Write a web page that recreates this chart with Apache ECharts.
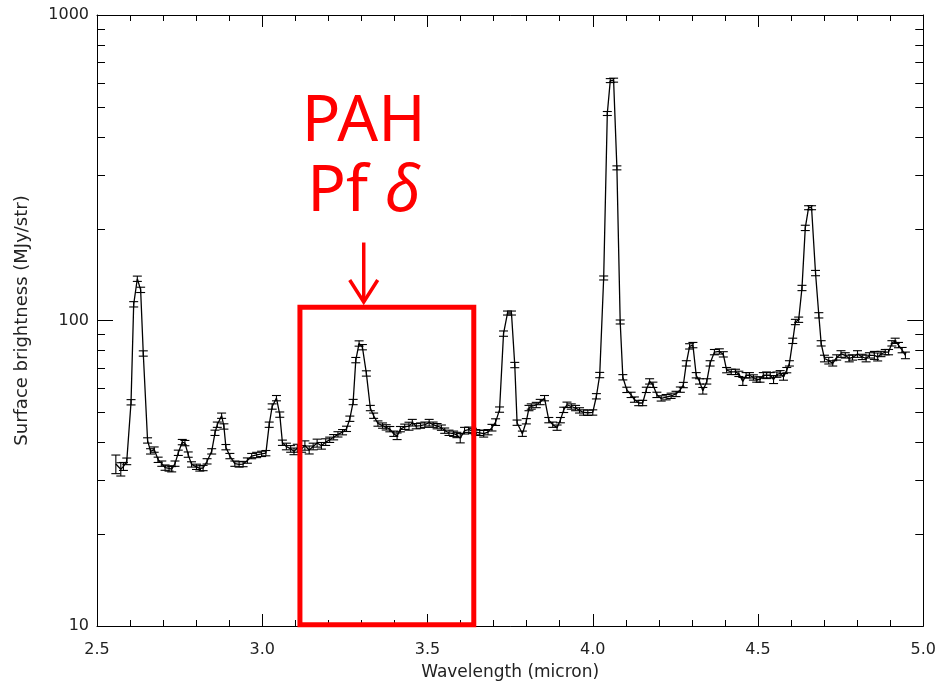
<!DOCTYPE html>
<html>
<head>
<meta charset="utf-8">
<script src="https://cdn.jsdelivr.net/npm/echarts@6/dist/echarts.min.js"></script>
<style>
html,body{margin:0;padding:0;background:#fff;}
#chart{width:939px;height:686px;}
</style>
</head>
<body>
<div id="chart"></div>
<script>
// ---- data ----
const wavelength = [
2.557,2.572,2.580,2.590,2.603,2.611,2.622,2.632,2.640,2.653,2.662,2.673,2.685,2.696,2.706,2.718,2.726,2.736,2.746,2.758,
2.766,2.776,2.786,2.801,2.811,2.821,2.833,2.847,2.857,2.864,2.877,2.884,2.890,2.902,2.917,2.930,2.942,2.955,2.968,2.983,
2.998,3.011,3.021,3.030,3.043,3.053,3.061,3.073,3.086,3.096,3.106,3.119,3.129,3.142,3.154,3.166,3.179,3.192,3.204,3.216,
3.229,3.243,3.255,3.265,3.275,3.283,3.293,3.303,3.315,3.327,3.337,3.350,3.364,3.375,3.386,3.398,3.408,3.418,3.431,3.444,
3.454,3.466,3.479,3.492,3.505,3.517,3.529,3.542,3.552,3.565,3.579,3.589,3.599,3.612,3.625,3.636,3.646,3.658,3.670,3.683,
3.695,3.706,3.718,3.730,3.742,3.754,3.764,3.771,3.787,3.799,3.807,3.814,3.829,3.841,3.854,3.867,3.879,3.892,3.902,3.912,
3.922,3.935,3.948,3.960,3.972,3.985,4.000,4.011,4.021,4.033,4.044,4.053,4.063,4.073,4.083,4.091,4.103,4.116,4.126,4.139,
4.151,4.162,4.172,4.182,4.194,4.207,4.222,4.237,4.252,4.265,4.274,4.283,4.293,4.303,4.313,4.323,4.333,4.345,4.355,4.368,
4.383,4.395,4.405,4.419,4.432,4.442,4.454,4.464,4.474,4.486,4.496,4.506,4.516,4.526,4.537,4.547,4.557,4.567,4.577,4.587,
4.595,4.605,4.613,4.623,4.633,4.643,4.653,4.662,4.674,4.684,4.691,4.701,4.714,4.726,4.738,4.751,4.764,4.776,4.786,4.801,
4.815,4.827,4.837,4.852,4.862,4.872,4.885,4.895,4.905,4.915,4.925,4.936,4.946
];
const brightness = [
33.9,32.6,33.3,34.6,54,113,137,126,78,40.5,37.3,37.8,35,34,33,32.8,32.6,34,36.9,40,
39.7,36.4,33.8,33.2,32.8,32.9,34.6,37.3,42.9,45.6,48.8,45,38.5,36,34,33.8,33.9,34.8,36,36.3,
36.6,36.8,45.6,52.3,55.7,49.2,39.8,38.7,38,37.3,38.2,38,39,37.7,38.7,39.7,38.9,40,40.7,41.5,
42.4,43.1,44.2,47.7,54.1,74.2,84.1,81.8,67.1,51.7,48.8,46,45.3,44.7,44.1,42.6,41.8,44.1,44.9,45.1,
46.3,45.1,45.3,45.6,46.3,45.6,45.1,44.6,43.6,42.9,42.6,42.2,41.2,43.6,43.9,43.5,43.1,42.9,42.6,43.1,
44.6,46.5,51.1,90.6,105.8,105.8,71.5,46.3,42.6,46.8,51.7,52.3,52.9,54.1,55.7,47.2,45.6,44.6,47.2,51,
53,52.3,51.7,50.8,50,49.9,50,56.5,66.3,137.8,476,610,612,316,98.9,65.2,59.3,57.1,55.1,53.7,
53.7,59.3,63.2,61.6,57.1,55.6,56.1,56.7,57.5,59.4,61.5,72.4,82.3,83.1,66.2,63.2,58.9,63.2,72.4,78.8,
79.2,77.5,68.8,67.9,67.9,66.9,63.2,66.2,66.2,65.1,64.1,64.1,66.2,66.2,66.2,64.1,66.5,67.2,65.4,68.8,
72.4,85.8,98.9,100.6,127.8,201,234,234,143,104,84.2,75.1,73.9,72.4,75.7,77.7,76.9,75.1,75.7,77.7,
76,75.1,76.9,76.9,76,77.7,78.8,78.8,84.2,85.8,83.1,80,76.9
];
// relative 1-sigma uncertainty, percent
const errPct = [
7,5,3,2.5,2,2,2,2,2,2,2,2,2,2,2,2,2,2,2,2,
2,2,2,2,2,2,2,2,2,2,2,2,2,2,2,2,2,2,2,2,
2,2,2,2,2,2,2,2.5,2.5,2.5,3,2.5,3.5,3,2.5,3,2.5,2.5,2,2,
2,2,2,2,2,2,2,2,2,2,2,2,2,2,2,2,2.5,2,2,3,
2.5,2,2,2,2.5,2,2,2,2,2,2,2,3.5,2.5,2,2,2,2,2.5,2,
2.5,2.5,2,2,1.5,1.5,2,2,2,2,2,2,2,2,2,2,2,2,2,2,
2,2,2,2,2,2,2,2,2,1.5,1.5,1.5,1.5,1.5,1.5,2,2,2,2,2,
2,2,2,2,2,2,2,2,2,2,2,2,2,2,2,2,2.5,2,2,2,
2,2,2,2,2,2,3,2,2,2,2,2,2,2.5,2,3,2,2,2.5,2,
2,2,2,2,2,2,1.5,1.5,2,2,2,2.5,2.5,2,2,2.5,2,2.5,2,2.5,
2,2.5,2,3,3,2,2,2,2,2,2,2,2.5
];
const xTickLabels = ['2.5','3.0','3.5','4.0','4.5','5.0'];
const yTickLabels = ['10','100','1000'];
const yMinorValues = [20,30,40,50,60,70,80,90,200,300,400,500,600,700,800,900];
// annotation (data coordinates)
const boxRange = {x0: 3.114, x1: 3.640, yTop: 110.6, yBottom: 10.1};
const arrowAt = {x: 3.307, yFrom: 180, yTo: 115};
const annotationText = [
  {text: 'PAH', x: 3.307, y: 445},
  {text: 'Pf {d|δ}', x: 3.307, y: 262}
];

const X_MIN = 2.5, X_MAX = 5.0;
const chart = echarts.init(document.getElementById('chart'), null, {renderer: 'canvas'});
const black = '#000';
const textColor = '#222';
const fontFam = 'DejaVu Sans';

const pts = wavelength.map((w, i) => [w, brightness[i], errPct[i]]);

const axisCommonX = {
  type: 'value', min: X_MIN, max: X_MAX, interval: 0.5,
  axisLine: {show: true, onZero: false, lineStyle: {color: black, width: 1}},
  axisTick: {show: true, inside: true, length: 12, lineStyle: {color: black, width: 1}},
  minorTick: {show: true, splitNumber: 5, length: 6, lineStyle: {color: black, width: 1}},
  splitLine: {show: false}, minorSplitLine: {show: false}
};
const axisCommonY = {
  type: 'log', logBase: 10, min: 10, max: 1000,
  axisLine: {show: true, onZero: false, lineStyle: {color: black, width: 1}},
  axisTick: {show: true, inside: true, length: 16, lineStyle: {color: black, width: 1}},
  splitLine: {show: false}
};

const option = {
  animation: false,
  backgroundColor: '#fff',
  grid: {left: 97, right: 15, top: 15, bottom: 56, containLabel: false},
  xAxis: [
    Object.assign({}, axisCommonX, {
      position: 'bottom',
      axisLabel: {show: true, margin: 16, fontSize: 16, color: textColor, fontFamily: fontFam,
        formatter: v => { const s = v.toFixed(1); return xTickLabels.includes(s) ? s : ''; }},
      name: 'Wavelength (micron)', nameLocation: 'middle', nameGap: 38,
      nameTextStyle: {fontSize: 17, color: textColor, fontFamily: fontFam}
    }),
    Object.assign({}, axisCommonX, {position: 'top', axisLabel: {show: false}})
  ],
  yAxis: [
    Object.assign({}, axisCommonY, {
      position: 'left',
      axisLabel: {show: true, margin: 8, fontSize: 16, color: textColor, fontFamily: fontFam,
        formatter: v => { const s = String(Math.round(v)); return yTickLabels.includes(s) ? s : ''; }},
      name: 'Surface brightness (MJy/str)', nameLocation: 'middle', nameGap: 66, nameRotate: 90,
      nameTextStyle: {fontSize: 18, color: textColor, fontFamily: fontFam}
    }),
    Object.assign({}, axisCommonY, {position: 'right', axisLabel: {show: false}})
  ],
  series: [
    {
      type: 'line', xAxisIndex: 0, yAxisIndex: 0,
      data: pts.map(p => [p[0], p[1]]),
      symbol: 'none', lineStyle: {color: black, width: 1.3}, z: 3
    },
    {
      type: 'custom', xAxisIndex: 0, yAxisIndex: 0, z: 4,
      data: pts,
      encode: {x: 0, y: 1},
      renderItem: function (params, api) {
        const x = api.value(0), y = api.value(1), e = api.value(2) / 100;
        const t = api.coord([x, y * (1 + e)]);
        const b = api.coord([x, y * (1 - e)]);
        const hw = 4.5;
        const st = {stroke: black, lineWidth: 1.1};
        return {type: 'group', children: [
          {type: 'line', shape: {x1: t[0], y1: t[1], x2: b[0], y2: b[1]}, style: st},
          {type: 'line', shape: {x1: t[0] - hw, y1: t[1], x2: t[0] + hw, y2: t[1]}, style: st},
          {type: 'line', shape: {x1: b[0] - hw, y1: b[1], x2: b[0] + hw, y2: b[1]}, style: st}
        ]};
      }
    },
    {
      // log-spaced minor ticks on the left and right y axes
      type: 'custom', xAxisIndex: 0, yAxisIndex: 0, z: 5, silent: true,
      data: yMinorValues.map(v => [X_MIN, v]),
      encode: {x: 0, y: 1},
      clip: false,
      renderItem: function (params, api) {
        const v = api.value(1);
        const l = api.coord([X_MIN, v]);
        const r = api.coord([X_MAX, v]);
        const st = {stroke: black, lineWidth: 1};
        return {type: 'group', children: [
          {type: 'line', shape: {x1: l[0], y1: Math.round(l[1]) + 0.5, x2: l[0] + 8, y2: Math.round(l[1]) + 0.5}, style: st},
          {type: 'line', shape: {x1: r[0] - 8, y1: Math.round(r[1]) + 0.5, x2: r[0], y2: Math.round(r[1]) + 0.5}, style: st}
        ]};
      }
    },
    {
      // red annotation: box, arrow and labels
      type: 'custom', xAxisIndex: 0, yAxisIndex: 0, z: 10, silent: true, clip: false,
      data: [[boxRange.x0, boxRange.yTop]],
      encode: {x: 0, y: 1},
      renderItem: function (params, api) {
        const red = '#ff0000';
        const p0 = api.coord([boxRange.x0, boxRange.yTop]);
        const p1 = api.coord([boxRange.x1, boxRange.yBottom]);
        const a0 = api.coord([arrowAt.x, arrowAt.yFrom]);
        const a1 = api.coord([arrowAt.x, arrowAt.yTo]);
        const children = [
          {type: 'rect', shape: {x: p0[0], y: p0[1], width: p1[0] - p0[0], height: p1[1] - p0[1]},
            style: {stroke: red, lineWidth: 5, fill: null}},
          {type: 'line', shape: {x1: a0[0], y1: a0[1], x2: a1[0], y2: a1[1]},
            style: {stroke: red, lineWidth: 3.5}},
          {type: 'polyline', shape: {points: [[a1[0] - 14, a1[1] - 22], [a1[0], a1[1]], [a1[0] + 14, a1[1] - 22]]},
            style: {stroke: red, lineWidth: 3.5, fill: null, lineJoin: 'miter'}}
        ];
        annotationText.forEach(t => {
          const c = api.coord([t.x, t.y]);
          children.push({type: 'text', x: c[0], y: c[1],
            style: {text: t.text, fill: red, fontSize: 64, fontFamily: 'Noto Sans',
              align: 'center', verticalAlign: 'middle',
              rich: {d: {fontSize: 64, fontFamily: 'Noto Sans', fontStyle: 'italic', fill: red}}}});
        });
        return {type: 'group', children: children};
      }
    }
  ]
};
chart.setOption(option);
</script>
</body>
</html>
